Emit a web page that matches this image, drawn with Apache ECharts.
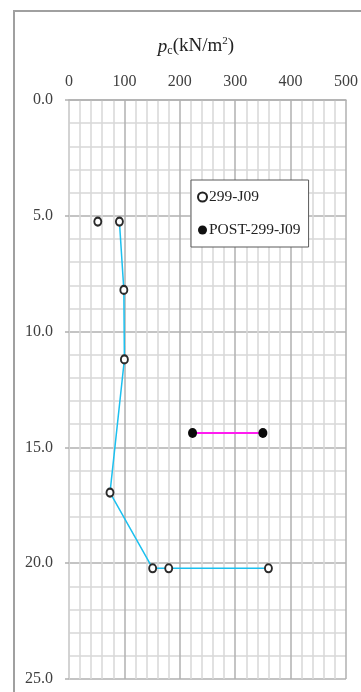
<!DOCTYPE html>
<html>
<head>
<meta charset="utf-8">
<script src="https://cdn.jsdelivr.net/npm/echarts@6/dist/echarts.min.js"></script>
<style>
  html, body { margin: 0; padding: 0; background: #fff; }
  #chart { width: 361px; height: 692px; }
</style>
</head>
<body>
<div id="chart"></div>
<script>
// pc (kN/m2) vs depth
var xTicks = [0, 100, 200, 300, 400, 500];
var depthTicks = [0, 5, 10, 15, 20, 25];

// 299-J09 test points [pc, depth]
var j09Points = [[52, 5.25], [91, 5.25], [99, 8.2], [100, 11.2], [74, 16.95], [151, 20.22], [180, 20.22], [360, 20.22]];
// the connected profile (first point stands alone)
var j09Line = [[91, 5.25], [99, 8.2], [100, 11.2], [74, 16.95], [151, 20.22], [180, 20.22], [360, 20.22]];
// POST-299-J09
var postPoints = [[223, 14.38], [350, 14.38]];

var serif = '"Liberation Serif", "DejaVu Serif", serif';
var majorColor = '#b0b0b0';
var minorColor = '#d8d8d8';

var chart = echarts.init(document.getElementById('chart'));

var option = {
  animation: false,
  backgroundColor: '#fff',
  graphic: [{
    type: 'rect',
    shape: { x: 14, y: 11, width: 400, height: 760 },
    style: { fill: 'none', stroke: '#a0a0a0', lineWidth: 2 },
    z: -10
  }],
  title: {
    text: '{p|p}{s|c}{n|(kN/m}{sup|2}{n|)}',
    left: 191,
    top: 31,
    textAlign: 'center',
    textStyle: {
      fontWeight: 'normal',
      rich: {
        p: { fontFamily: serif, fontSize: 19, fontStyle: 'italic', fontWeight: 'normal', color: '#222' },
        s: { fontFamily: serif, fontSize: 12, fontWeight: 'normal', color: '#222', verticalAlign: 'bottom', padding: [9, 0, 0, 0] },
        n: { fontFamily: serif, fontSize: 19, fontWeight: 'normal', color: '#222' },
        sup: { fontFamily: serif, fontSize: 11, fontWeight: 'normal', color: '#222', verticalAlign: 'top', padding: [0, 0, 9, 0] }
      }
    }
  },
  legend: {
    orient: 'vertical',
    left: 191,
    top: 180,
    padding: [9, 8, 9, 6],
    itemGap: 17,
    itemWidth: 9,
    itemHeight: 9,
    backgroundColor: '#fff',
    borderColor: '#5a5a5a',
    borderWidth: 1,
    textStyle: { fontFamily: serif, fontSize: 15.5, color: '#222', padding: [0, 0, 0, -3] },
    data: [
      { name: '299-J09', icon: 'circle', itemStyle: { color: '#fff', borderColor: '#222', borderWidth: 2 } },
      { name: 'POST-299-J09', icon: 'circle', itemStyle: { color: '#111', borderWidth: 0 } }
    ]
  },
  grid: { left: 69, right: 12, top: 100, bottom: 13 },
  xAxis: {
    type: 'value',
    position: 'top',
    min: 0,
    max: 500,
    interval: 100,
    axisLine: { show: true, lineStyle: { color: majorColor, width: 1.5 } },
    axisTick: { show: false },
    axisLabel: {
      margin: 10,
      fontFamily: serif,
      fontSize: 16,
      color: '#404040',
      formatter: function (v) { return xTicks.indexOf(v) >= 0 ? String(v) : ''; }
    },
    splitLine: { show: true, lineStyle: { color: majorColor, width: 1.5 } },
    minorTick: { show: false, splitNumber: 5 },
    minorSplitLine: { show: true, lineStyle: { color: minorColor, width: 1.5 } }
  },
  yAxis: {
    type: 'value',
    inverse: true,
    min: 0,
    max: 25,
    interval: 5,
    axisLine: { show: true, lineStyle: { color: minorColor, width: 1.5 } },
    axisTick: { show: true, length: 4, lineStyle: { color: majorColor, width: 1.5 } },
    axisLabel: {
      margin: 16,
      fontFamily: serif,
      fontSize: 16,
      color: '#404040',
      formatter: function (v) { return depthTicks.indexOf(v) >= 0 ? v.toFixed(1) : ''; }
    },
    splitLine: { show: true, lineStyle: { color: majorColor, width: 1.5 } },
    minorTick: { show: false, splitNumber: 5 },
    minorSplitLine: { show: true, lineStyle: { color: minorColor, width: 1.5 } }
  },
  series: [
    {
      name: 'j09-line',
      type: 'line',
      data: j09Line,
      symbol: 'none',
      lineStyle: { color: '#1cc0ef', width: 1.5 },
      z: 2
    },
    {
      name: 'post-line',
      type: 'line',
      data: postPoints,
      symbol: 'none',
      lineStyle: { color: '#ff1cf0', width: 2 },
      z: 2
    },
    {
      name: '299-J09',
      type: 'scatter',
      data: j09Points,
      symbol: 'circle',
      symbolSize: [7, 8],
      itemStyle: { color: '#fff', borderColor: '#2a2a2a', borderWidth: 2, opacity: 1 },
      z: 5
    },
    {
      name: 'POST-299-J09',
      type: 'scatter',
      data: postPoints,
      symbol: 'circle',
      symbolSize: [9, 10],
      itemStyle: { color: '#0a0a0a', opacity: 1 },
      z: 5
    }
  ]
};

chart.setOption(option);
</script>
</body>
</html>
